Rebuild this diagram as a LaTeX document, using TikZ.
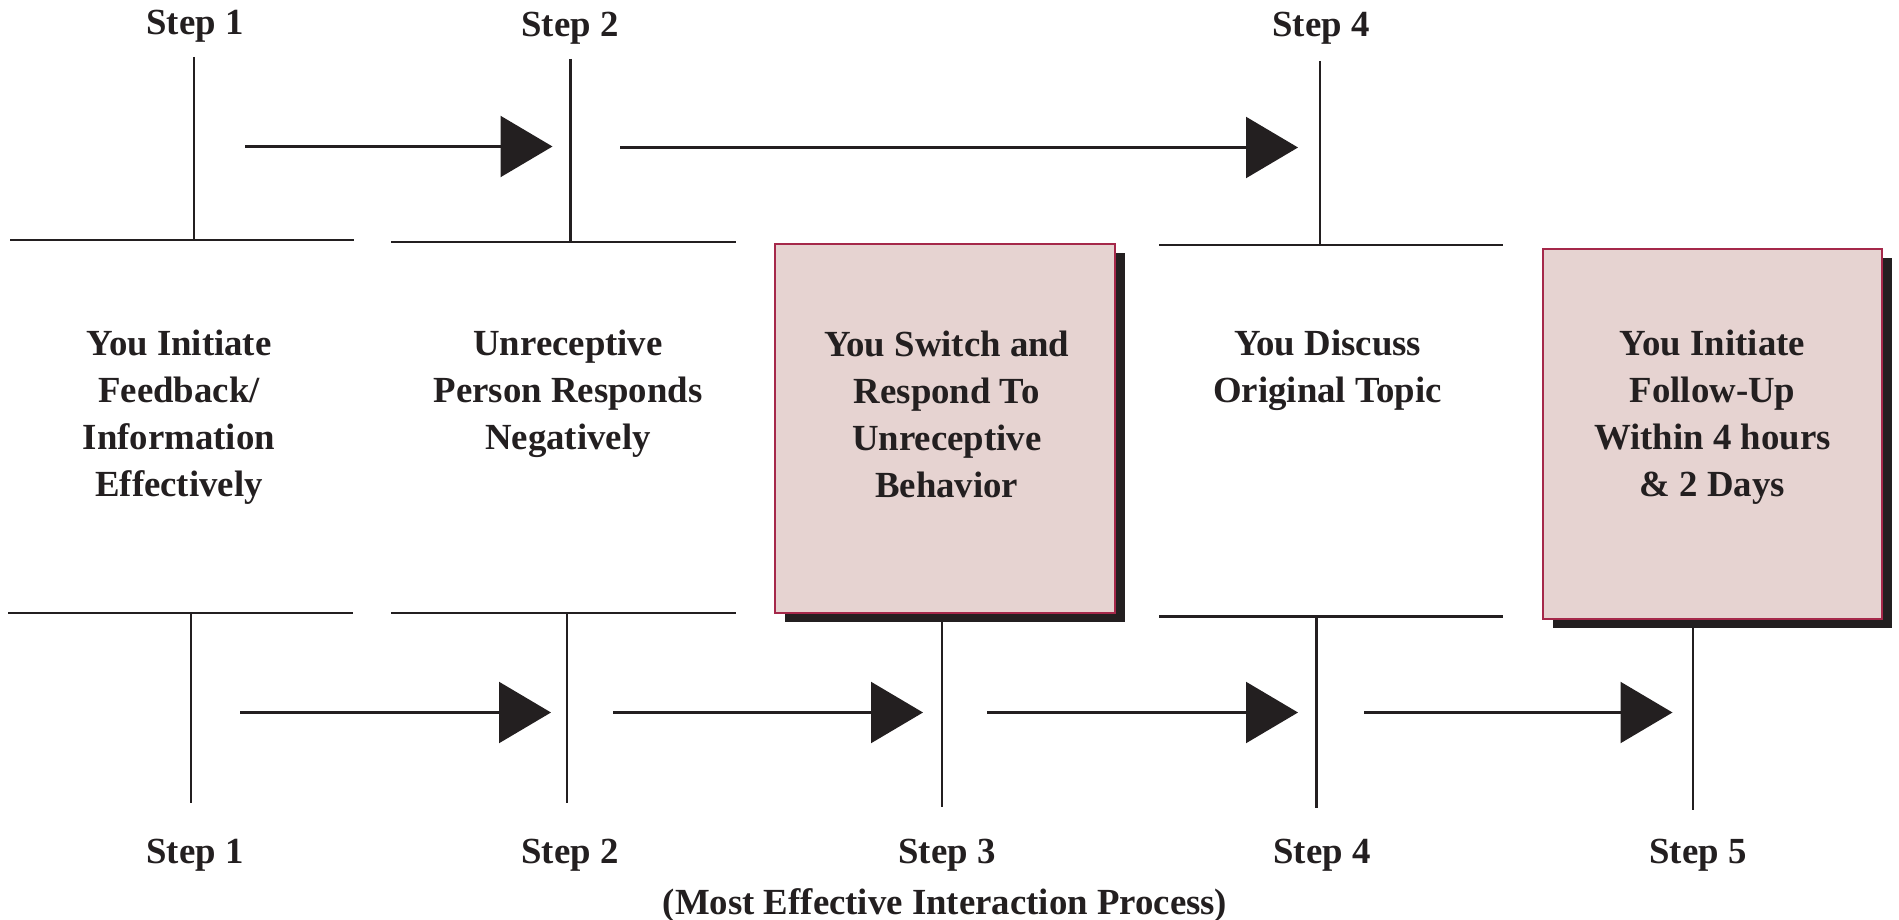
\documentclass[tikz,border=0pt]{standalone}
\usepackage{fontspec}
\setmainfont{Liberation Serif}
\usetikzlibrary{arrows.meta,shadows}

\definecolor{ink}{HTML}{231F20}
\definecolor{boxfill}{HTML}{E6D3D1}
\definecolor{boxedge}{HTML}{A5284A}

\tikzset{
  lbl/.style={font=\fontsize{36.8}{47}\selectfont\bfseries, text=ink,
              inner sep=0pt, anchor=base, align=center},
  bar/.style={draw=ink, line width=2.2pt},
  flow/.style={draw=ink, line width=2.2pt,
               -{Triangle[length=52pt,width=61pt]}},
  card/.style={fill=boxfill, draw=boxedge, line width=2pt, inner sep=0pt,
               drop shadow={shadow xshift=10pt, shadow yshift=-9pt,
                            fill=ink, opacity=1}},
}

\begin{document}
\begin{tikzpicture}[x=1pt,y=-1pt]
\useasboundingbox (0,0) rectangle (1899,920);

% ---- highlighted steps ----
\node[card, minimum width=340pt, minimum height=369.6pt] (box3) at (945,428.5) {};
\node[card, minimum width=339.6pt, minimum height=369.7pt] (box5) at (1712.5,434.2) {};

% ---- step labels, top row ----
\node[lbl] (top1) at (195,35)  {Step 1};
\node[lbl] (top2) at (570,37)  {Step 2};
\node[lbl] (top4) at (1321,37) {Step 4};

% ---- step labels, bottom row ----
\node[lbl] (bot1) at (195,863)  {Step 1};
\node[lbl] (bot2) at (570,863)  {Step 2};
\node[lbl] (bot3) at (947,863)  {Step 3};
\node[lbl] (bot4) at (1322,863) {Step 4};
\node[lbl] (bot5) at (1698,863) {Step 5};
\node[lbl] (caption) at (945,914) {(Most Effective Interaction Process)};

% ---- step descriptions (anchored on the baseline of the last line) ----
\node[lbl] (desc1) at (179,496)    {You Initiate\\Feedback/\\Information\\Effectively};
\node[lbl] (desc2) at (568,449)    {Unreceptive\\Person Responds\\Negatively};
\node[lbl] (desc3) at (946.7,497)  {You Switch and\\Respond To\\Unreceptive\\Behavior};
\node[lbl] (desc4) at (1327.6,402) {You Discuss\\Original Topic};
\node[lbl] (desc5) at (1712.5,496) {You Initiate\\Follow-Up\\Within 4 hours\\\& 2 Days};

% ---- upper bars ----
\coordinate (ua1) at (10,240);   \coordinate (ub1) at (354,240);
\coordinate (ua2) at (391,242);  \coordinate (ub2) at (736,242);
\coordinate (ua4) at (1159,245); \coordinate (ub4) at (1503,245);
\draw[bar] (ua1) -- (ub1);
\draw[bar] (ua2) -- (ub2);
\draw[bar] (ua4) -- (ub4);

% upper posts
\coordinate (up1) at (194,57);    \coordinate (uf1) at (194,240);
\coordinate (up2) at (570.4,59);  \coordinate (uf2) at (570.4,242);
\coordinate (up4) at (1320,61);   \coordinate (uf4) at (1320,245);
\draw[bar] (up1) -- (uf1);
\draw[bar] (up2) -- (uf2);
\draw[bar] (up4) -- (uf4);

% upper arrows
\coordinate (us1) at (245,146.5);  \coordinate (ue1) at (552.5,146.5);
\coordinate (us2) at (620,147.5);  \coordinate (ue2) at (1298,147.5);
\draw[flow] (us1) -- (ue1);
\draw[flow] (us2) -- (ue2);

% ---- lower bars ----
\coordinate (la1) at (8,613);      \coordinate (lb1) at (353,613);
\coordinate (la2) at (391,613);    \coordinate (lb2) at (736,613);
\coordinate (la4) at (1159,616.5); \coordinate (lb4) at (1503,616.5);
\draw[bar] (la1) -- (lb1);
\draw[bar] (la2) -- (lb2);
\draw[bar] (la4) -- (lb4);

% lower posts
\coordinate (lp1) at (191,613);     \coordinate (lf1) at (191,803);
\coordinate (lp2) at (567,613);     \coordinate (lf2) at (567,803);
\coordinate (lf3) at (942,806.6);
\coordinate (lp4) at (1316.5,616.5);\coordinate (lf4) at (1316.5,808);
\coordinate (lf5) at (1693,810);
\draw[bar] (lp1) -- (lf1);
\draw[bar] (lp2) -- (lf2);
\draw[bar] (box3.south -| lf3) -- (lf3);
\draw[bar] (lp4) -- (lf4);
\draw[bar] (box5.south -| lf5) -- (lf5);

% lower arrows
\coordinate (ls1) at (240,712.5);  \coordinate (le1) at (551,712.5);
\coordinate (ls2) at (613,712.5);  \coordinate (le2) at (923,712.5);
\coordinate (ls3) at (987,712.5);  \coordinate (le3) at (1298,712.5);
\coordinate (ls4) at (1364,712.5); \coordinate (le4) at (1672.5,712.5);
\draw[flow] (ls1) -- (le1);
\draw[flow] (ls2) -- (le2);
\draw[flow] (ls3) -- (le3);
\draw[flow] (ls4) -- (le4);
\end{tikzpicture}
\end{document}
